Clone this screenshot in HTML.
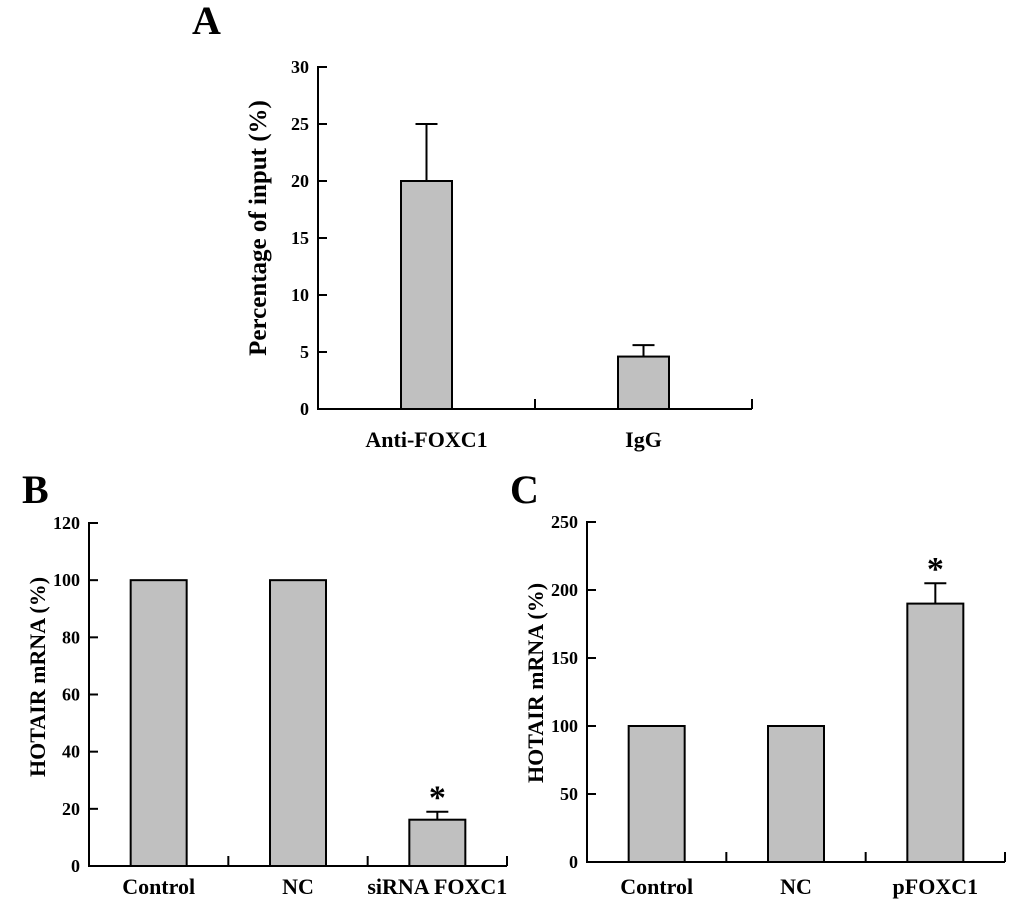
<!DOCTYPE html>
<html><head><meta charset="utf-8"><style>
body{margin:0;background:#fff}
svg text{font-family:"Liberation Serif",serif;font-weight:bold;fill:#000}
</style></head><body>
<svg id="s" width="1033" height="915"></svg>
<script>
const catsA=["Anti-FOXC1","IgG"];
const valsA=[20,4.6];
const errA=[5,1.0];
const ticksA=[0,5,10,15,20,25,30];
const catsB=["Control","NC","siRNA FOXC1"];
const valsB=[100,100,16.2];
const errB=[0,0,2.8];
const ticksB=[0,20,40,60,80,100,120];
const catsC=["Control","NC","pFOXC1"];
const valsC=[100,100,190];
const errC=[0,0,15];
const ticksC=[0,50,100,150,200,250];
const sigB=[false,false,true];
const sigC=[false,false,true];
const NS="http://www.w3.org/2000/svg";
const svg=document.getElementById('s');
function mk(tag,at,txt){const e=document.createElementNS(NS,tag);for(const k in at)e.setAttribute(k,at[k]);if(txt!=null)e.textContent=txt;svg.appendChild(e);return e;}
function panel(p){
 const {x0,x1,y0,y1,max,ticks,cats,vals,errs,sig,bw,title,letter,lx,ly,key,catY}=p;
 const ys=v=>y0-(v/max)*(y0-y1);
 const step=(x1-x0)/cats.length;
 let e=mk('line',{x1:x0,y1:y0,x2:x0,y2:y1-1,stroke:'#000','stroke-width':2});
 
 e=mk('line',{x1:x0-1,y1:y0,x2:x1,y2:y0,stroke:'#000','stroke-width':2});
 
 ticks.forEach(t=>{const y=ys(t);
  e=mk('line',{x1:x0,y1:y,x2:x0+9,y2:y,stroke:'#000','stroke-width':2});
  
  e=mk('text',{x:x0-9,y:y+6,'text-anchor':'end','font-size':18},t);
  });
 for(let i=1;i<=cats.length;i++){const x=x0+step*i;
  e=mk('line',{x1:x,y1:y0,x2:x,y2:y0-10,stroke:'#000','stroke-width':2});
  }
 cats.forEach((c,i)=>{const cx=x0+step*(i+0.5);const top=ys(vals[i]);
  if(errs[i]>0){const et=ys(vals[i]+errs[i]);
   e=mk('line',{x1:cx,y1:top,x2:cx,y2:et,stroke:'#000','stroke-width':2});
   
   e=mk('line',{x1:cx-11,y1:et,x2:cx+11,y2:et,stroke:'#000','stroke-width':2});
   
   if(sig[i]){e=mk('text',{x:cx,y:et-3,'text-anchor':'middle','font-size':34,'font-weight':'normal',fill:'#333'},'*');
    }}
  e=mk('rect',{x:cx-bw/2,y:top,width:bw,height:y0-top,fill:'#c0c0c0',stroke:'#000','stroke-width':2});
  
  e=mk('text',{x:cx,y:catY,'text-anchor':'middle','font-size':p.cfs||22},c);
  });
 e=mk('text',{x:0,y:0,'text-anchor':'middle','font-size':p.tfs,transform:`translate(${p.tx},${p.ty}) rotate(-90)`},title);
 
 e=mk('text',{x:lx,y:ly,'font-size':40},letter);
 
}
panel({key:'a',x0:318,x1:752,y0:409,y1:67,max:30,ticks:ticksA,cats:catsA,vals:valsA,errs:errA,sig:[false,false],bw:51,title:"Percentage of input (%)",tfs:25,tx:266,ty:228,letter:"A",lx:192,ly:34,catY:447});
panel({key:'b',x0:89,x1:507,y0:866,y1:523,max:120,ticks:ticksB,cats:catsB,vals:valsB,errs:errB,sig:sigB,bw:56,title:"HOTAIR mRNA (%)",tfs:22,tx:45,ty:677,letter:"B",lx:22,ly:503,catY:894});
panel({key:'c',x0:587,x1:1005,y0:862,y1:522,max:250,ticks:ticksC,cats:catsC,vals:valsC,errs:errC,sig:sigC,bw:56,title:"HOTAIR mRNA (%)",tfs:22,tx:543,ty:683,letter:"C",lx:510,ly:503,catY:894});
</script>
</body></html>
